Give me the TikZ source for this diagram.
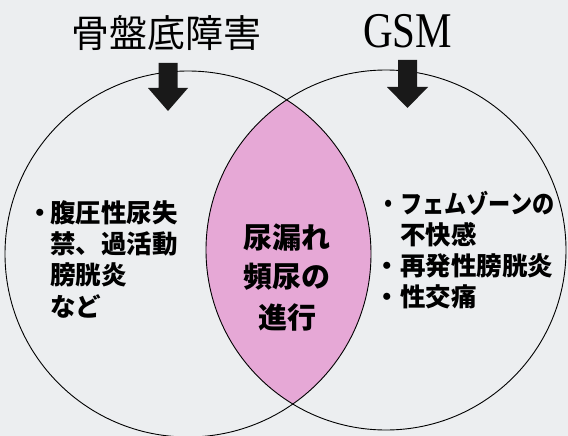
\documentclass[tikz,border=0pt]{standalone}
\usepackage{fontspec}
\setmainfont{Liberation Serif}
\newfontfamily\cjk{Noto Sans CJK JP}
\definecolor{bgcol}{RGB}{236,238,240}
\definecolor{lenspink}{RGB}{230,168,214}
\tikzset{
  ring/.style={draw=black, line width=0.9pt},
  bigarrow/.style={fill=black!90},
  item/.style={anchor=west, inner sep=0pt, font=\cjk\bfseries\fontsize{25.5}{30}\selectfont},
  lenstext/.style={anchor=center, inner sep=0pt, font=\cjk\bfseries\fontsize{29}{34}\selectfont},
}
\begin{document}
\begin{tikzpicture}[x=1pt,y=-1pt]
\path[use as bounding box, fill=bgcol] (0,0) rectangle (568,436);
% lens
\begin{scope}
  \clip (188,254) circle (183pt);
  \fill[lenspink] (386,250) circle (180pt);
\end{scope}
\draw[ring] (188,254) circle (183pt);
\draw[ring] (386,250) circle (180pt);
% arrows
\fill[bigarrow] (158.5,63) -- (177.5,63) -- (177.5,88) -- (188,88) -- (168,111) -- (148,88) -- (158.5,88) -- cycle;
\fill[bigarrow] (398,60) -- (417,60) -- (417,87) -- (428,87) -- (407.5,108) -- (387,87) -- (398,87) -- cycle;
% titles
\node[inner sep=0pt, font=\cjk\fontsize{38}{40}\selectfont] (t1) at (166,33) {骨盤底障害};
\node[inner sep=0pt, anchor=base, xscale=0.82, font=\fontsize{50}{52}\selectfont] (t2) at (407.5,48) {GSM};
% left block
\node[item] (l1) at (50,213) {\llap{・\kern-3pt}腹圧性尿失};
\node[item] (l2) at (50,244) {禁、過活動};
\node[item] (l3) at (50,275) {膀胱炎};
\node[item] (l4) at (50,306) {など};
% lens
\node[lenstext] (c1) at (287,238) {尿漏れ};
\node[lenstext] (c2) at (287,277) {頻尿の};
\node[lenstext] (c3) at (287,317) {進行};
% right block
\node[item, xscale=0.87] (r1) at (400,203) {\llap{・}フェムゾーンの};
\node[item] (r2) at (400,235) {不快感};
\node[item] (r3) at (400,266) {\llap{・}再発性膀胱炎};
\node[item] (r4) at (400,297) {\llap{・}性交痛};
\end{tikzpicture}
\end{document}
